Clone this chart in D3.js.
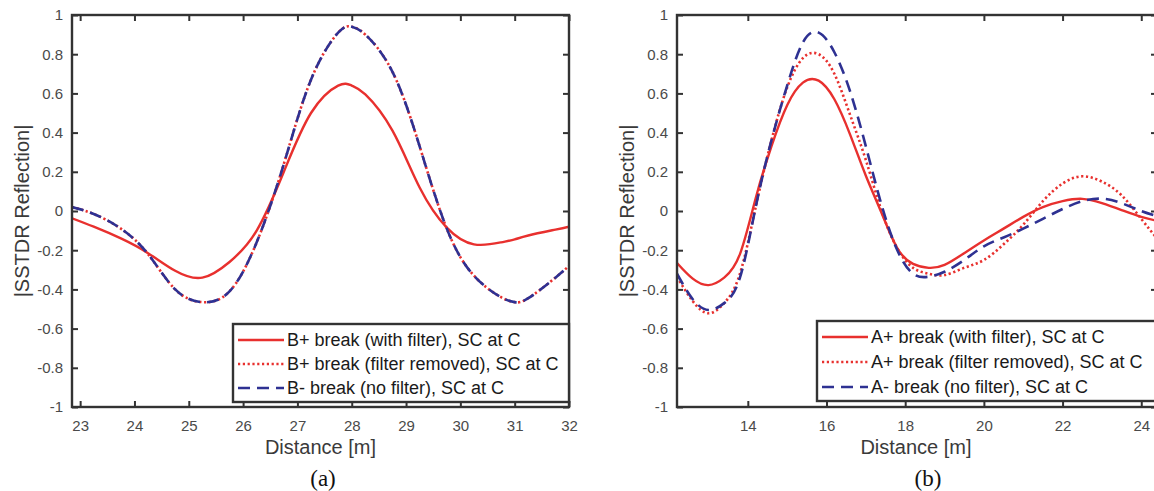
<!DOCTYPE html>
<html>
<head>
<meta charset="utf-8">
<script src="https://cdn.jsdelivr.net/npm/d3@7"></script>
<style>
  html, body { margin: 0; padding: 0; background: #fff; }
  svg { display: block; font-family: "Liberation Sans", Arial, sans-serif; }
</style>
</head>
<body>
<svg id="chart" width="1154" height="491"></svg>
<script>
// ---------- Data ----------
const leftX = [22.85, 23.25, 23.75, 24.25, 24.75, 25.25, 25.75, 26.25, 26.75, 27.25, 27.75, 28.0, 28.25, 28.75, 29.25, 29.75, 30.25, 30.75, 31.0, 31.25, 31.75, 32.0];
const leftWithFilter    = [-0.037, -0.08, -0.14, -0.215, -0.305, -0.34, -0.26, -0.10, 0.20, 0.50, 0.64, 0.64, 0.595, 0.41, 0.12, -0.085, -0.17, -0.16, -0.145, -0.125, -0.095, -0.08];
const leftFilterRemoved = [0.02, -0.015, -0.09, -0.22, -0.40, -0.465, -0.41, -0.16, 0.24, 0.67, 0.91, 0.94, 0.90, 0.71, 0.33, -0.09, -0.33, -0.44, -0.465, -0.445, -0.34, -0.28];
const leftNoFilter      = [0.02, -0.015, -0.09, -0.22, -0.40, -0.465, -0.41, -0.16, 0.24, 0.67, 0.91, 0.94, 0.90, 0.71, 0.33, -0.09, -0.33, -0.44, -0.465, -0.445, -0.34, -0.28];

const rightX = [12.2, 12.6, 13.0, 13.4, 13.8, 14.2, 14.6, 15.0, 15.4, 15.8, 16.2, 16.6, 17.0, 17.4, 17.8, 18.2, 18.6, 19.0, 19.5, 20.0, 20.5, 21.0, 21.5, 22.0, 22.5, 23.0, 23.5, 24.0, 24.4];
const rightWithFilter    = [-0.265, -0.345, -0.378, -0.34, -0.22, 0.065, 0.33, 0.54, 0.655, 0.665, 0.57, 0.39, 0.18, -0.01, -0.19, -0.27, -0.29, -0.275, -0.215, -0.15, -0.09, -0.03, 0.02, 0.05, 0.062, 0.04, 0.005, -0.03, -0.05];
const rightFilterRemoved = [-0.336, -0.46, -0.522, -0.47, -0.32, 0.02, 0.36, 0.63, 0.78, 0.80, 0.70, 0.49, 0.26, 0.0, -0.19, -0.29, -0.32, -0.327, -0.29, -0.25, -0.17, -0.07, 0.05, 0.14, 0.177, 0.15, 0.08, -0.04, -0.14];
const rightNoFilter      = [-0.32, -0.45, -0.505, -0.47, -0.34, 0.02, 0.36, 0.64, 0.86, 0.91, 0.81, 0.61, 0.33, 0.03, -0.2, -0.32, -0.335, -0.31, -0.25, -0.18, -0.135, -0.09, -0.04, 0.01, 0.05, 0.063, 0.04, 0.0, -0.025];

const leftXTicks  = [23, 24, 25, 26, 27, 28, 29, 30, 31, 32];
const rightXTicks = [14, 16, 18, 20, 22, 24];
const yTicks      = [-1, -0.8, -0.6, -0.4, -0.2, 0, 0.2, 0.4, 0.6, 0.8, 1];
const yTickLabels = ["-1", "-0.8", "-0.6", "-0.4", "-0.2", "0", "0.2", "0.4", "0.6", "0.8", "1"];

const leftLegend  = ["B+ break (with filter), SC at C", "B+ break (filter removed), SC at C", "B- break (no filter), SC at C"];
const rightLegend = ["A+ break (with filter), SC at C", "A+ break (filter removed), SC at C", "A- break (no filter), SC at C"];

const xTitle = "Distance [m]";
const yTitle = "|SSTDR Reflection|";

// ---------- Styles ----------
const RED = "#e8302e", BLUE = "#2e3192", AXIS = "#333333";
const seriesStyles = [
  { color: RED,  dash: null,   width: 2.4 },
  { color: RED,  dash: "2.2,2.6", width: 2.6 },
  { color: BLUE, dash: "12,7", width: 2.6 }
];

const svg = d3.select("#chart");

function drawPanel(p) {
  const x = d3.scaleLinear().domain(p.xDomain).range([p.left, p.right]);
  const y = d3.scaleLinear().domain([-1, 1]).range([p.bottom, p.top]);
  const g = svg.append("g");
  const clipId = "clip" + p.id;
  svg.append("defs").append("clipPath").attr("id", clipId)
    .append("rect").attr("x", p.left).attr("y", p.top)
    .attr("width", p.right - p.left).attr("height", p.bottom - p.top);

  // axes (ticks inward on all four sides)
  const fmtY = v => yTickLabels[yTicks.indexOf(v)];
  const bottomAx = d3.axisBottom(x).tickValues(p.xTicks).tickSizeInner(-6).tickSizeOuter(0).tickPadding(13).tickFormat(d3.format("d"));
  const topAx = d3.axisTop(x).tickValues(p.xTicks).tickSizeInner(-6).tickSizeOuter(0).tickFormat("");
  const leftAx = d3.axisLeft(y).tickValues(yTicks).tickSizeInner(-6).tickSizeOuter(0).tickPadding(9).tickFormat(fmtY);
  const rightAx = d3.axisRight(y).tickValues(yTicks).tickSizeInner(-6).tickSizeOuter(0).tickFormat("");

  const axes = [
    g.append("g").attr("transform", `translate(0,${p.bottom})`).call(bottomAx),
    g.append("g").attr("transform", `translate(0,${p.top})`).call(topAx),
    g.append("g").attr("transform", `translate(${p.left},0)`).call(leftAx),
    g.append("g").attr("transform", `translate(${p.right},0)`).call(rightAx)
  ];
  axes.forEach(a => {
    a.select(".domain").remove();
    a.selectAll(".tick line").attr("stroke", AXIS).attr("stroke-width", 2);
    a.selectAll(".tick text").attr("fill", "#4a4a4a").style("font-size", "15px")
      .style("font-family", "'Liberation Sans', Arial, sans-serif");
  });

  // lines
  const line = d3.line().x(d => x(d[0])).y(d => y(d[1])).curve(d3.curveNatural);
  const lg = g.append("g").attr("clip-path", `url(#${clipId})`);
  p.series.forEach((vals, i) => {
    const st = seriesStyles[i];
    lg.append("path")
      .datum(p.xs.map((xv, j) => [xv, vals[j]]))
      .attr("fill", "none").attr("stroke", st.color).attr("stroke-width", st.width)
      .attr("stroke-dasharray", st.dash).attr("d", line);
  });

  // frame
  g.append("rect").attr("x", p.left).attr("y", p.top)
    .attr("width", p.right - p.left).attr("height", p.bottom - p.top)
    .attr("fill", "none").attr("stroke", AXIS).attr("stroke-width", 2.4);

  // legend
  const L = p.legend;
  g.append("rect").attr("x", L.x0).attr("y", L.y0).attr("width", L.x1 - L.x0).attr("height", L.y1 - L.y0)
    .attr("fill", "#fff").attr("stroke", AXIS).attr("stroke-width", 2.4);
  p.legendLabels.forEach((lab, i) => {
    const st = seriesStyles[i];
    const cy = L.rows[i];
    g.append("line").attr("x1", L.x0 + 5).attr("x2", L.x0 + 51).attr("y1", cy).attr("y2", cy)
      .attr("stroke", st.color).attr("stroke-width", st.width).attr("stroke-dasharray", st.dash);
    g.append("text").attr("x", L.x0 + 54).attr("y", cy).attr("dy", "0.35em")
      .attr("fill", "#1a1a1a").style("font-size", "18px").text(lab);
  });

  // titles
  g.append("text").attr("x", (p.left + Math.min(p.right, 1155)) / 2).attr("y", 454).attr("text-anchor", "middle")
    .attr("fill", "#3a3a3a").style("font-size", "20px").text(xTitle);
  g.append("text").attr("transform", `translate(${p.left - 43},${(p.top + p.bottom) / 2}) rotate(-90)`)
    .attr("text-anchor", "middle").attr("fill", "#3a3a3a").style("font-size", "20px").text(yTitle);
  g.append("text").attr("x", p.captionX).attr("y", 486).attr("text-anchor", "middle")
    .attr("fill", "#111").style("font-family", "'Liberation Serif', 'Times New Roman', serif")
    .style("font-size", "23px").text(p.caption);
}

drawPanel({
  id: "a", left: 72, right: 569, top: 15, bottom: 407,
  xDomain: [22.85, 32], xTicks: leftXTicks, xs: leftX,
  series: [leftWithFilter, leftFilterRemoved, leftNoFilter],
  legendLabels: leftLegend,
  legend: { x0: 233, x1: 569, y0: 324, y1: 402, rows: [340, 364, 388] },
  caption: "(a)", captionX: 323
});

drawPanel({
  id: "b", left: 677, right: 1157, top: 15, bottom: 407,
  xDomain: [12.2, 24.4], xTicks: rightXTicks, xs: rightX,
  series: [rightWithFilter, rightFilterRemoved, rightNoFilter],
  legendLabels: rightLegend,
  legend: { x0: 817, x1: 1157, y0: 321, y1: 401, rows: [337, 362, 387] },
  caption: "(b)", captionX: 928
});
</script>
</body>
</html>
